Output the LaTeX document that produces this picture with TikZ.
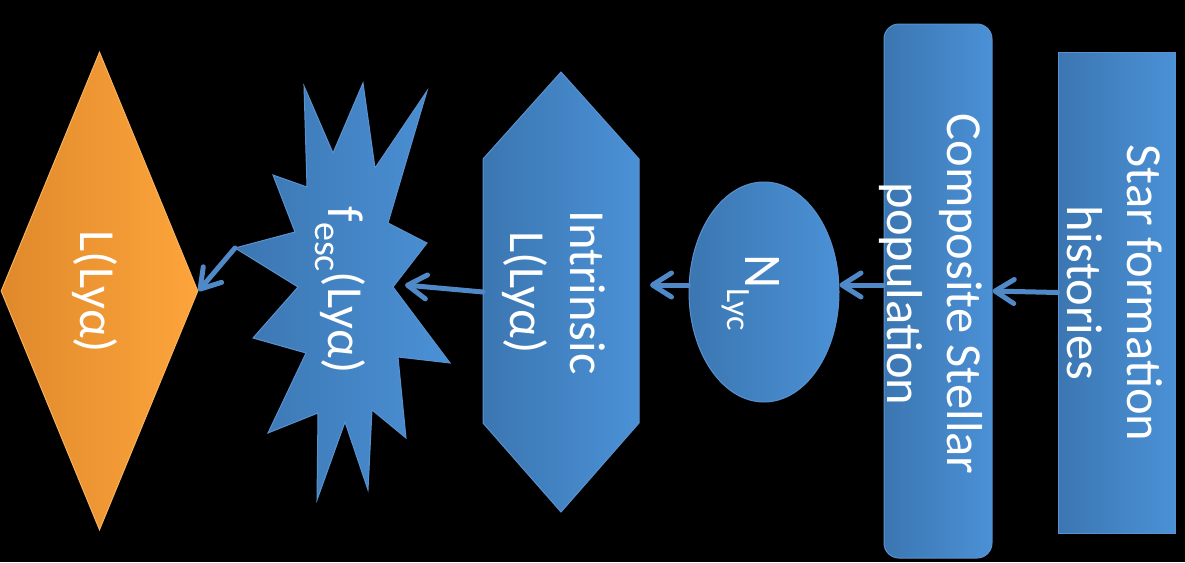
\documentclass[tikz,border=0pt]{standalone}
\usepackage{fontspec}
\setmainfont{Carlito}
\usepackage{graphicx}
\usetikzlibrary{shapes.geometric,arrows.meta}
\definecolor{bL}{HTML}{3B76B1}
\definecolor{bR}{HTML}{4B91D6}
\definecolor{bE}{HTML}{5A92CF}
\definecolor{oL}{HTML}{E0892C}
\definecolor{oR}{HTML}{FDA53B}
\definecolor{oE}{HTML}{F7B15E}
\definecolor{arrc}{HTML}{5089C8}
\newcommand{\vtext}[1]{\rotatebox{-90}{\begin{tabular}{@{}c@{}}#1\end{tabular}}}
\begin{document}
\begin{tikzpicture}[x=1pt,y=-1pt,
  blueshape/.style={left color=bL, right color=bR, draw=bE, line width=1pt},
  orangeshape/.style={left color=oL, right color=oR, draw=oE, line width=1pt},
  lbl/.style={text=white, inner sep=0pt, font=\fontsize{50.5}{60}\selectfont},
  conn/.style={draw=arrc, line width=5pt, line cap=round, -{Straight Barb[round,length=19pt,width=24pt]}}
]
\fill[black] (0,0) rectangle (1185,562);
\useasboundingbox (0,0) rectangle (1185,562);

% shapes
\node[orangeshape, diamond, minimum width=197pt, minimum height=478pt, inner sep=0pt] (lya) at (99.5,291) {};

\path[blueshape] (304,86) -- (333,153) -- (363,83) -- (375,168) -- (427,91) -- (388,223)
  -- (427,243) -- (393,287) -- (450,363) -- (398,357) -- (406,438) -- (372,410)
  -- (368,490) -- (345,422) -- (317,500) -- (318,413) -- (268,433) -- (306,353)
  -- (253,338) -- (298,287) -- (235,248) -- (295,232) -- (273,175) -- (307,187) -- cycle;
\coordinate (startip) at (235,248);
\coordinate (starin) at (405,285);

\path[blueshape] (561,72) -- (639,159) -- (639,423) -- (561,512) -- (483,423) -- (483,159) -- cycle;
\coordinate (hexw) at (483,292);

\node[blueshape, ellipse, minimum width=150pt, minimum height=220pt, inner sep=0pt] (nlyc) at (764,292) {};
\node[blueshape, rounded corners=15pt, minimum width=108pt, minimum height=534pt, inner sep=0pt] (csp) at (938,291) {};
\node[blueshape, minimum width=117pt, minimum height=481pt, inner sep=0pt] (sfh) at (1116.5,292.5) {};

% labels
\node[lbl] (tl) at (92,292) {\vtext{L(Lyα)}};
\node[lbl] (tf) at (340,290) {\vtext{f\raisebox{-13pt}{\fontsize{38}{38}\selectfont esc}(Lyα)}};
\node[lbl] (ti) at (552,292.5) {\vtext{Intrinsic\\L(Lyα)}};
\node[lbl, font=\fontsize{53}{60}\selectfont] (tn) at (755,293) {\vtext{N\raisebox{-18pt}{\fontsize{34}{34}\selectfont Lyc}}};
\node[lbl] (tc) at (929,294) {\vtext{Composite Stellar\\population}};
\node[lbl] (ts) at (1109,293) {\vtext{Star formation\\histories}};

% connectors
\coordinate (gap) at (650,285);
\draw[conn] (sfh.west) -- (csp.east);
\draw[conn] ([yshift=6pt]csp.west) -- ([yshift=7pt]nlyc.east);
\draw[conn] ([yshift=7pt]nlyc.west) -- (gap);
\draw[conn] (hexw) -- (starin);
\draw[conn] (startip) -- (lya.east);
\end{tikzpicture}
\end{document}
